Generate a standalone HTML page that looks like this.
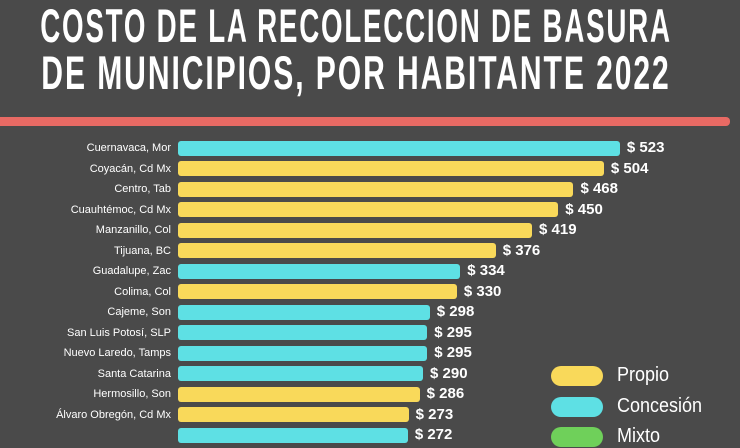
<!DOCTYPE html>
<html><head><meta charset="utf-8"><style>
body{margin:0;width:740px;height:431px;overflow:hidden;background:#4a4a4a;font-family:"Liberation Sans",sans-serif;position:relative}
.t{position:absolute;left:356px;color:#fff;font-weight:bold;font-size:47px;letter-spacing:3px;line-height:46px;transform:translateX(-50%) scaleX(0.59);white-space:nowrap}
.red{position:absolute;left:0;top:117px;width:730px;height:9px;background:#e86a64;border-radius:0 4px 4px 0}
.lab{position:absolute;right:569px;font-size:11px;color:#fff;white-space:nowrap;line-height:14px}
.bar{position:absolute;left:178px;height:15px;border-radius:3px}
.val{position:absolute;color:#fff;font-weight:bold;font-size:15px;line-height:16px;white-space:nowrap}
.pill{position:absolute;left:551px;width:52px;height:20px;border-radius:10px}
.lt{position:absolute;left:617px;color:#fff;font-size:20px;transform:scaleX(0.9);transform-origin:0 0}
</style></head><body>
<div class="t" style="top:3px">COSTO DE LA RECOLECCION DE BASURA</div>
<div class="t" style="top:50px;transform:translateX(-50%) scaleX(0.64)">DE MUNICIPIOS, POR HABITANTE 2022</div>
<div class="red"></div>
<div id="c"></div>
<div class="pill" style="top:366px;background:#f9d95a"></div><div class="lt" style="top:364px">Propio</div>
<div class="pill" style="top:397px;background:#5ee0e4"></div><div class="lt" style="top:395px">Concesión</div>
<div class="pill" style="top:427px;background:#6fd05a"></div><div class="lt" style="top:425px">Mixto</div>
<script>
var d=[["Cuernavaca, Mor",523,0],["Coyacán, Cd Mx",504,1],["Centro, Tab",468,1],["Cuauhtémoc, Cd Mx",450,1],["Manzanillo, Col",419,1],["Tijuana, BC",376,1],["Guadalupe, Zac",334,0],["Colima, Col",330,1],["Cajeme, Son",298,0],["San Luis Potosí, SLP",295,0],["Nuevo Laredo, Tamps",295,0],["Santa Catarina",290,0],["Hermosillo, Son",286,1],["Álvaro Obregón, Cd Mx",273,1],["",272,0]];
var h="";d.forEach(function(r,i){var y=148+i*20.5;var w=r[1]*0.845;
h+='<div class="lab" style="top:'+(y-7)+'px">'+r[0]+'</div><div class="bar" style="top:'+(y-7.5)+'px;width:'+w+'px;background:'+(r[2]?'#f9d95a':'#5ee0e4')+'"></div><div class="val" style="top:'+(y-8)+'px;left:'+(178+w+7)+'px">$ '+r[1]+'</div>';});
document.getElementById("c").innerHTML=h;
</script>
</body></html>
